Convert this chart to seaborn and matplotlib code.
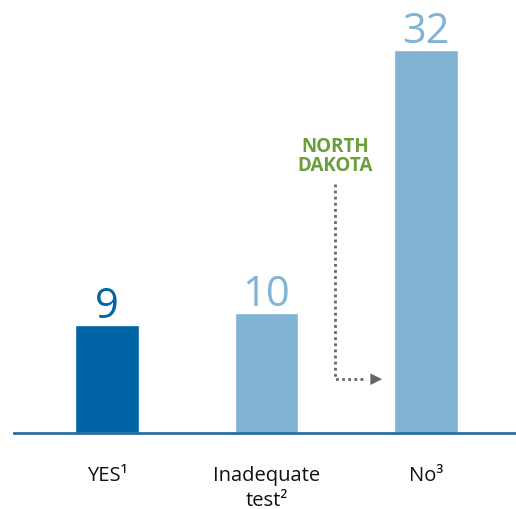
import matplotlib
matplotlib.use("Agg")
import matplotlib.pyplot as plt
import seaborn as sns
import pandas as pd

categories = ["YES\u00b9", "Inadequate\ntest\u00b2", "No\u00b3"]
values = [9, 10, 32]
bar_colors = ["#0064A5", "#80B3D4", "#80B3D4"]
label_colors = ["#0064A5", "#80B3D4", "#80B3D4"]

sns.set_theme(style="white")
plt.rcParams["font.family"] = ["Open Sans", "DejaVu Sans"]

df = pd.DataFrame({"cat": categories, "val": values})

fig = plt.figure(figsize=(5.16, 5.10), dpi=100)
ax = fig.add_axes([14 / 516, 76 / 510, 502 / 516, 434 / 510])
sns.barplot(data=df, x="cat", y="val", hue="cat", palette=bar_colors,
            width=0.40, legend=False, ax=ax, saturation=1)

ax.set_xlim(-0.583, 2.564)
ax.set_ylim(0, 36.3)
for s in ["top", "right", "left"]:
    ax.spines[s].set_visible(False)
ax.spines["bottom"].set_color("#2B6F9F")
ax.spines["bottom"].set_linewidth(2)
ax.set_yticks([])
ax.set_xlabel("")
ax.set_ylabel("")
ax.tick_params(axis="x", length=0, pad=23, labelsize=14.5, colors="#111111")
for t in ax.get_xticklabels():
    t.set_verticalalignment("top")
    t.set_linespacing(1.35)

for i, (v, c) in enumerate(zip(values, label_colors)):
    ax.text(i, v + 0.7, str(v), ha="center", va="baseline", fontsize=30,
            color=c)

ax.text(1.43, 23.2, "NORTH\nDAKOTA", ha="center", va="center", fontsize=13.5,
        fontweight="bold", color="#6B9E3B", linespacing=0.95)
ax.plot([1.43, 1.43, 1.62], [20.8, 4.5, 4.5], linestyle=(0, (1, 1.2)),
        color="#666666", linewidth=2)
ax.annotate("", xy=(1.724, 4.5), xytext=(1.62, 4.5),
            arrowprops=dict(arrowstyle="-|>,head_length=0.7,head_width=0.35",
                            color="#666666", lw=0, shrinkA=0, shrinkB=0))

fig.savefig("out.png", dpi=100)
